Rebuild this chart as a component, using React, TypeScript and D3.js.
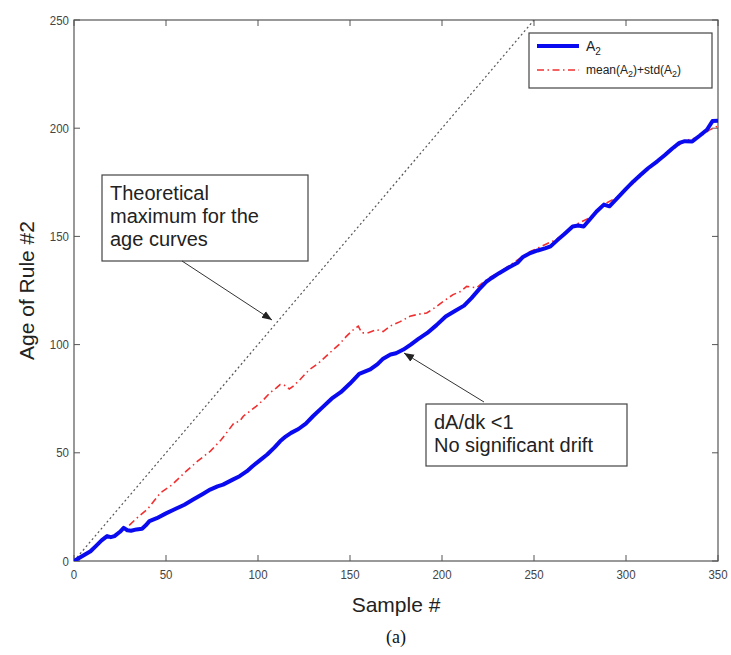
import React from "react";
import * as d3 from "d3";

const W = 731;
const H = 655;

const xTicks = [0, 50, 100, 150, 200, 250, 300, 350];
const yTicks = [0, 50, 100, 150, 200, 250];

// A2 curve: [sample, age]
const a2Samples = [0, 3, 6, 9, 12, 15, 18, 20, 22, 25, 27, 29, 31, 34, 37, 39, 41, 45, 50, 55, 60, 65, 70, 74, 78, 81, 86, 90, 94, 97, 101, 105, 109, 112, 115, 118, 122, 126, 130, 135, 140, 145, 150, 155, 158, 161, 165, 168, 172, 175, 179, 183, 187, 192, 197, 202, 207, 212, 216, 220, 224, 227, 231, 236, 241, 244, 248, 252, 256, 259, 263, 267, 271, 274, 277, 281, 284, 288, 291, 295, 300, 304, 308, 312, 317, 321, 325, 329, 332, 336, 340, 344, 347, 350];
const a2Values = [0, 1.5, 3, 4.5, 7, 9.5, 11.5, 11, 11.5, 13.5, 15.3, 14.2, 14, 14.6, 14.9, 16.5, 18.4, 19.8, 22, 24, 26, 28.5, 31, 33, 34.5, 35.3, 37.5, 39.2, 41.5, 43.8, 46.5, 49.2, 52.5, 55.3, 57.5, 59.2, 61, 63.5, 67, 71, 75, 78, 82, 86.5, 87.5, 88.5, 91, 93.5, 95.4, 96, 97.7, 100, 102.5, 105.4, 109, 113, 115.5, 118, 121.5, 125.4, 129, 130.8, 133, 135.5, 137.8, 140.5, 142.3, 143.5, 144.5, 145.4, 148.5, 151.5, 154.6, 155, 154.6, 158.5, 161.5, 164.7, 163.9, 167.5, 172, 175.4, 178.5, 181.5, 184.7, 187.5, 190.5, 193.2, 194, 193.9, 196.5, 199.3, 203.3, 203.5];

// mean(A2)+std(A2)
const msSamples = [30, 35, 40, 47, 53, 61, 67, 74, 80, 87, 90, 92, 96, 99, 103, 106.5, 110, 112, 114, 117, 119, 123, 128, 133, 139, 144, 148, 152, 154.5, 156.4, 160, 164.5, 168, 171.7, 177, 182.6, 187, 191.7, 196, 200.7, 206, 210, 213.4, 218.8, 222, 226, 232, 240, 248, 255, 262, 268, 274, 280, 288, 295, 302, 310, 318, 325, 332, 340, 345, 350];
const msValues = [16.5, 20.5, 24, 31.5, 35, 41.5, 46, 50.7, 56, 63.8, 64.5, 66.9, 69.5, 71.5, 74.5, 77.7, 80, 81.5, 81.5, 79.5, 80.7, 84, 88.5, 91.5, 96.2, 100, 103.8, 107, 108.5, 105.4, 105.5, 106.9, 106, 108.5, 110.5, 113.1, 114, 114.6, 117, 120, 123.1, 124.5, 126.9, 126.2, 128.5, 131, 133.8, 138.5, 143, 145.8, 148.5, 152.5, 156, 158.5, 164.8, 168, 173, 179.5, 185, 190, 194.2, 196, 199, 201];

const theoSamples = [0, 250];
const theoValues = [0, 250];

const left = 74, right = 718, top = 20, bottom = 561;

export default function App() {
  const x = d3.scaleLinear().domain([0, 350]).range([left, right]);
  const y = d3.scaleLinear().domain([0, 250]).range([bottom, top]);
  const line = d3.line<[number, number]>().x(d => x(d[0])).y(d => y(d[1]));
  const a2 = a2Samples.map((s, i) => [s, a2Values[i]] as [number, number]);
  const ms = msSamples.map((s, i) => [s, msValues[i]] as [number, number]);
  const th = theoSamples.map((s, i) => [s, theoValues[i]] as [number, number]);
  const font = "Arial, 'Liberation Sans', sans-serif";
  const axisCol = "#555";
  const tickCol = "#444";
  return (
    <svg width={W} height={H} style={{ position: "absolute", left: 0, top: 0, background: "#fff" }} fontFamily={font}>
      <defs>
        <clipPath id="plot">
          <rect x={left} y={top} width={right - left} height={bottom - top} />
        </clipPath>
        <marker id="arr" viewBox="0 0 10 10" refX="10" refY="5" markerWidth="10" markerHeight="10" markerUnits="userSpaceOnUse" orient="auto">
          <path d="M0,1 L10,5 L0,9 z" fill="#222" />
        </marker>
      </defs>
      <rect x={0} y={0} width={W} height={H} fill="#fff" />
      {/* frame */}
      <rect x={left} y={top} width={right - left} height={bottom - top} fill="none" stroke={axisCol} strokeWidth={1.2} />
      {xTicks.map(t => (
        <g key={"x" + t}>
          <line x1={x(t)} x2={x(t)} y1={bottom} y2={bottom - 6} stroke={axisCol} />
          <line x1={x(t)} x2={x(t)} y1={top} y2={top + 6} stroke={axisCol} />
          <text transform={`translate(${x(t)},${bottom + 18}) scale(0.85,1)`} textAnchor="middle" fontSize={13.5} fill={tickCol}>{t}</text>
        </g>
      ))}
      {yTicks.map(t => (
        <g key={"y" + t}>
          <line x1={left} x2={left + 6} y1={y(t)} y2={y(t)} stroke={axisCol} />
          <line x1={right} x2={right - 6} y1={y(t)} y2={y(t)} stroke={axisCol} />
          <text transform={`translate(${left - 5},${y(t) + 4.5}) scale(0.85,1)`} textAnchor="end" fontSize={13.5} fill={tickCol}>{t}</text>
        </g>
      ))}
      <g clipPath="url(#plot)">
        <path d={line(th) || ""} fill="none" stroke="#555" strokeWidth={1.2} strokeDasharray="2,2.6" />
        <path d={line(ms) || ""} fill="none" stroke="#f03030" strokeWidth={1.6} strokeDasharray="7,3.5,1.5,3.5" />
        <path d={line(a2) || ""} fill="none" stroke="#0a0af0" strokeWidth={4} strokeLinejoin="round" />
      </g>
      {/* legend */}
      <rect x={529} y={33} width={183} height={55} fill="#fff" stroke="#444" strokeWidth={1.2} />
      <line x1={537} x2={579} y1={46} y2={46} stroke="#0a0af0" strokeWidth={4} />
      <text x={586} y={51} fontSize={14} fill="#222">A<tspan fontSize={10} dy={4}>2</tspan></text>
      <line x1={537} x2={579} y1={70} y2={70} stroke="#f03030" strokeWidth={1.6} strokeDasharray="7,3.5,1.5,3.5" />
      <text x={586} y={74} fontSize={12} fill="#222">mean(A<tspan fontSize={9} dy={3}>2</tspan><tspan dy={-3}>)+std(A</tspan><tspan fontSize={9} dy={3}>2</tspan><tspan dy={-3}>)</tspan></text>
      {/* annotation 1 */}
      <rect x={102} y={175} width={206} height={86} fill="#fff" stroke="#444" strokeWidth={1.2} />
      <text fontSize={20} fill="#222">
        <tspan x={110} y={200}>Theoretical</tspan>
        <tspan x={110} y={223}>maximum for the</tspan>
        <tspan x={110} y={246}>age curves</tspan>
      </text>
      <line x1={182} y1={261} x2={272} y2={320} stroke="#333" strokeWidth={1} markerEnd="url(#arr)" />
      {/* annotation 2 */}
      <rect x={426} y={404} width={201} height={62} fill="#fff" stroke="#444" strokeWidth={1.2} />
      <text fontSize={20} fill="#222">
        <tspan x={434} y={429}>dA/dk &lt;1</tspan>
        <tspan x={434} y={452}>No significant drift</tspan>
      </text>
      <line x1={484} y1={402} x2={404} y2={353} stroke="#333" strokeWidth={1} markerEnd="url(#arr)" />
      {/* axis titles */}
      <text x={396} y={612} textAnchor="middle" fontSize={21} fill="#222">Sample #</text>
      <text transform={`translate(34,${(top + bottom) / 2}) rotate(-90)`} textAnchor="middle" fontSize={21} fill="#222">Age of Rule #2</text>
      <text x={396} y={643} textAnchor="middle" fontSize={18} fontFamily="'Liberation Serif', 'Times New Roman', serif" fill="#111">(a)</text>
    </svg>
  );
}
